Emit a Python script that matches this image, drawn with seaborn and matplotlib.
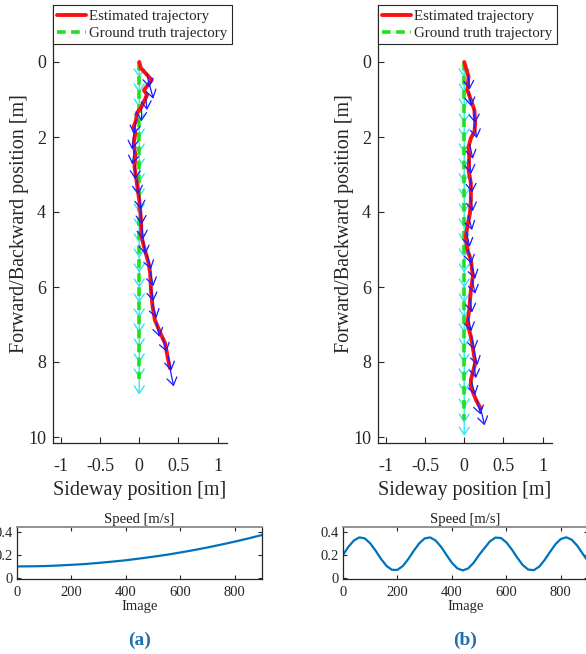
import matplotlib
matplotlib.use("Agg")
import matplotlib.pyplot as plt
import seaborn as sns
import pandas as pd

# ---------------- data ----------------
# (a) estimated trajectory
est_a_x = [0.0, 0.02, 0.16, 0.06, 0.10, 0.03, -0.03, -0.04, -0.07, -0.05, -0.07, -0.05, -0.06,
           -0.03, 0.0, 0.02, 0.03, 0.06, 0.12, 0.14, 0.15, 0.17, 0.20, 0.27, 0.33, 0.37, 0.39]
est_a_y = [0.0, 0.16, 0.48, 0.75, 0.88, 1.19, 1.36, 1.55, 1.72, 1.90, 2.17, 2.50, 2.80,
           3.23, 3.68, 4.12, 4.66, 4.92, 5.37, 5.63, 6.08, 6.52, 6.88, 7.23, 7.50, 7.95, 8.16]
# (a) estimated heading arrows (origin x, origin y, dx, dy)
arr_a_x = [0.10, 0.13, 0.08, 0.03, -0.04, -0.07, -0.06, -0.05, -0.03, 0.0, 0.02, 0.03, 0.05,
           0.10, 0.14, 0.15, 0.17, 0.22, 0.30, 0.37, 0.39]
arr_a_y = [0.30, 0.60, 0.90, 1.20, 1.55, 1.95, 2.35, 2.75, 3.15, 3.55, 3.95, 4.35, 4.75,
           5.15, 5.60, 6.00, 6.45, 6.95, 7.35, 7.85, 8.15]
arr_a_u = [0.03, 0.05, 0.02, 0.0, -0.03, -0.02, -0.03, 0.0, 0.02, 0.02, 0.01, 0.02, 0.03,
           0.05, 0.04, 0.03, 0.05, 0.04, 0.05, 0.04, 0.05]
arr_a_v = [0.38, 0.38, 0.38, 0.38, 0.38, 0.38, 0.38, 0.38, 0.38, 0.38, 0.38, 0.38, 0.38,
           0.38, 0.38, 0.38, 0.38, 0.38, 0.38, 0.38, 0.50]
# (a) ground truth
gt_a_x = [0.0, 0.0]
gt_a_y = [0.0, 8.45]
gt_arr_a_y = [0.0, 0.4, 0.8, 1.2, 1.6, 2.0, 2.4, 2.8, 3.2, 3.6, 4.0, 4.4, 4.8, 5.2, 5.6,
              6.0, 6.4, 6.8, 7.2, 7.6, 8.0, 8.45]

# (b) estimated trajectory
est_b_x = [0.0, 0.055, 0.04, 0.085, 0.13, 0.14, 0.13, 0.085, 0.055, 0.064, 0.055, 0.085, 0.085,
           0.073, 0.04, 0.02, 0.04, 0.085, 0.11, 0.085, 0.064, 0.04, 0.085, 0.115, 0.14, 0.085,
           0.085, 0.15, 0.21]
est_b_y = [0.0, 0.39, 0.75, 1.01, 1.28, 1.63, 1.86, 2.03, 2.26, 2.52, 2.88, 3.23, 3.68,
           4.03, 4.39, 4.66, 5.01, 5.28, 5.72, 6.08, 6.61, 6.97, 7.32, 7.68, 8.03, 8.48,
           8.66, 9.01, 9.24]
arr_b_x = [0.05, 0.06, 0.12, 0.13, 0.07, 0.06, 0.08, 0.08, 0.05, 0.03, 0.05, 0.09, 0.10,
           0.07, 0.05, 0.09, 0.12, 0.12, 0.09, 0.16, 0.21]
arr_b_y = [0.35, 0.80, 1.25, 1.65, 2.20, 2.60, 3.10, 3.60, 4.10, 4.55, 5.00, 5.40, 5.80,
           6.30, 6.80, 7.30, 7.70, 8.05, 8.50, 9.00, 9.24]
arr_b_u = [0.02, 0.03, 0.02, 0.03, 0.04, 0.03, 0.02, 0.03, 0.05, 0.04, 0.04, 0.05, 0.04,
           0.03, 0.04, 0.04, 0.05, 0.03, 0.05, 0.05, 0.05]
arr_b_v = [0.38, 0.38, 0.38, 0.38, 0.38, 0.38, 0.38, 0.38, 0.38, 0.38, 0.38, 0.38, 0.38,
           0.38, 0.38, 0.38, 0.38, 0.38, 0.38, 0.40, 0.45]
gt_b_x = [0.0, 0.0]
gt_b_y = [0.0, 9.55]
gt_arr_b_y = [0.0, 0.4, 0.8, 1.2, 1.6, 2.0, 2.4, 2.8, 3.2, 3.6, 4.0, 4.4, 4.8, 5.2, 5.6,
              6.0, 6.4, 6.8, 7.2, 7.6, 8.0, 8.4, 8.8, 9.2, 9.55]

# speed profiles
img_a = [0, 50, 100, 150, 200, 250, 300, 350, 400, 450, 500, 550, 600, 650, 700, 750, 800, 850, 900]
speed_a = [0.100, 0.101, 0.103, 0.108, 0.114, 0.121, 0.131, 0.142, 0.154, 0.169, 0.185, 0.202,
           0.222, 0.243, 0.266, 0.291, 0.317, 0.345, 0.375]
img_b = [0, 20, 40, 60, 80, 100, 120, 140, 160, 180, 200, 220, 240, 260, 280, 300, 320, 340,
         360, 380, 400, 420, 440, 460, 480, 500, 520, 540, 560, 580, 600, 620, 640, 660, 680,
         700, 720, 740, 760, 780, 800, 820, 840, 860, 880, 900]
speed_b = [0.201, 0.272, 0.327, 0.354, 0.345, 0.302, 0.237, 0.165, 0.104, 0.070, 0.070, 0.104,
           0.165, 0.237, 0.302, 0.345, 0.354, 0.327, 0.272, 0.201, 0.132, 0.083, 0.065, 0.083,
           0.132, 0.201, 0.261, 0.320, 0.352, 0.349, 0.311, 0.249, 0.177, 0.113, 0.073, 0.067,
           0.096, 0.154, 0.225, 0.293, 0.340, 0.355, 0.334, 0.283, 0.213, 0.143]

xticks_top = [-1, -0.5, 0, 0.5, 1]
xtick_labels_top = ["-1", "-0.5", "0", "0.5", "1"]
yticks_top = [0, 2, 4, 6, 8, 10]
yticks_speed = [0, 0.2, 0.4]
ytick_labels_speed = ["0", "0.2", "0.4"]
xticks_speed = [0, 200, 400, 600, 800]

# ---------------- style ----------------
sns.set_style("ticks")
plt.rcParams["font.family"] = ["Liberation Serif", "DejaVu Serif"]
plt.rcParams["axes.unicode_minus"] = False

AX_COL = "#262626"
RED = "#ff1010"
GREEN = "#1fe01f"
DASH = (0, (2.4, 1.5))
fig = plt.figure(figsize=(5.86, 6.54), dpi=100)

top_axes = [
    fig.add_axes([53 / 586, 1 - 443 / 654, 174 / 586, 438 / 654]),
    fig.add_axes([378 / 586, 1 - 443 / 654, 174 / 586, 438 / 654]),
]
spd_axes = [
    fig.add_axes([17 / 586, 1 - 579 / 654, 245 / 586, 52 / 654]),
    fig.add_axes([343 / 586, 1 - 579 / 654, 245 / 586, 52 / 654]),
]

datasets = [
    (est_a_x, est_a_y, arr_a_x, arr_a_y, arr_a_u, arr_a_v, gt_a_x, gt_a_y, gt_arr_a_y),
    (est_b_x, est_b_y, arr_b_x, arr_b_y, arr_b_u, arr_b_v, gt_b_x, gt_b_y, gt_arr_b_y),
]

for ax, (ex, ey, ax_x, ax_y, ax_u, ax_v, gx, gy, gay) in zip(top_axes, datasets):
    # ground-truth heading arrows (cyan)
    for y0 in gay:
        ax.annotate("", xy=(0.0, y0 + 0.42), xytext=(0.0, y0), xycoords="data",
                    arrowprops=dict(arrowstyle="->,head_length=0.45,head_width=0.3",
                                    color="#33e6f2", lw=1.0,
                                    shrinkA=0, shrinkB=0, mutation_scale=12), zorder=2)
    gdf = pd.DataFrame({"x": gx, "y": gy})
    sns.lineplot(data=gdf, x="x", y="y", sort=False, estimator=None, errorbar=None,
                 ax=ax, color=GREEN, lw=2.6, linestyle=DASH, zorder=3)
    edf = pd.DataFrame({"x": ex, "y": ey})
    sns.lineplot(data=edf, x="x", y="y", sort=False, estimator=None, errorbar=None,
                 ax=ax, color=RED, lw=2.8, zorder=4)
    for x0, y0, u, v in zip(ax_x, ax_y, ax_u, ax_v):
        ax.annotate("", xy=(x0 + u, y0 + v), xytext=(x0, y0), xycoords="data",
                    arrowprops=dict(arrowstyle="->,head_length=0.45,head_width=0.3",
                                    color="#1a1aff", lw=0.9,
                                    shrinkA=0, shrinkB=0, mutation_scale=12), zorder=5)
    ax.set_xlim(-1.1, 1.12)
    ax.set_ylim(10.16, -1.52)
    ax.set_xticks(xticks_top)
    ax.set_xticklabels(xtick_labels_top)
    ax.set_yticks(yticks_top)
    ax.tick_params(direction="in", length=4, width=0.8, colors=AX_COL, labelsize=13,
                   labelcolor=AX_COL, pad=5)
    ax.tick_params(axis="x", pad=11)
    for s in ["top", "right"]:
        ax.spines[s].set_visible(False)
    for s in ["left", "bottom"]:
        ax.spines[s].set_color(AX_COL)
        ax.spines[s].set_linewidth(0.9)
    ax.set_xlabel("Sideway position [m]", fontsize=14.5, color=AX_COL, labelpad=4)
    ax.set_ylabel("Forward/Backward position [m]", fontsize=14.5, color=AX_COL, labelpad=-1)
    h_est, = ax.plot([], [], color=RED, lw=2.8)
    h_gt, = ax.plot([], [], color=GREEN, lw=2.6, linestyle=DASH)
    leg = ax.legend([h_est, h_gt], ["Estimated trajectory", "Ground truth trajectory"],
                    loc="upper left", bbox_to_anchor=(0.0, 1.0), borderaxespad=0,
                    fontsize=10.7, frameon=True, fancybox=False, edgecolor=AX_COL,
                    framealpha=1, handlelength=1.9, handletextpad=0.25,
                    labelspacing=0.25, borderpad=0.3)
    leg.get_frame().set_linewidth(0.8)

for ax, xs, ys in zip(spd_axes, [img_a, img_b], [speed_a, speed_b]):
    sdf = pd.DataFrame({"img": xs, "speed": ys})
    sns.lineplot(data=sdf, x="img", y="speed", ax=ax, color="#0072BD", lw=1.6,
                 estimator=None, errorbar=None)
    ax.set_xlim(0, 900)
    ax.set_ylim(-0.01, 0.445)
    ax.set_xticks(xticks_speed)
    ax.set_yticks(yticks_speed)
    ax.set_yticklabels(ytick_labels_speed)
    ax.tick_params(direction="in", length=3, width=0.8, colors=AX_COL, labelsize=10.5,
                   labelcolor=AX_COL, top=True, right=True, pad=3)
    ax.tick_params(axis="x", pad=5)
    for s in ax.spines.values():
        s.set_color(AX_COL)
        s.set_linewidth(0.9)
    ax.spines["top"].set_color("#808080")
    ax.spines["top"].set_linewidth(1.2)
    ax.set_title("Speed [m/s]", fontsize=10.5, color="#1a1a1a", pad=3)
    ax.set_xlabel("Image", fontsize=10.5, color=AX_COL, labelpad=1)
    ax.set_ylabel("")

fig.text(140 / 586, 1 - 640 / 654, "(a)", ha="center", va="center", fontsize=14,
         fontweight="bold", color="#1f6fae")
fig.text(465 / 586, 1 - 640 / 654, "(b)", ha="center", va="center", fontsize=14,
         fontweight="bold", color="#1f6fae")

fig.savefig("out.png", dpi=100)
